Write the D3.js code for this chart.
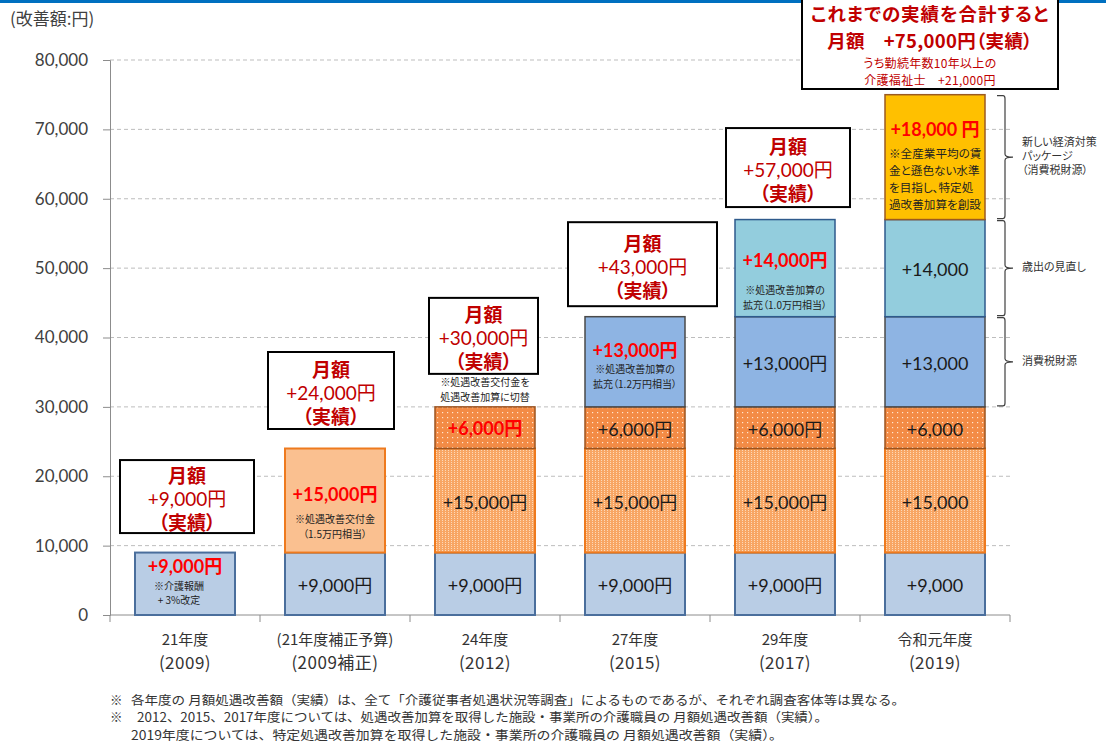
<!DOCTYPE html>
<html><head><meta charset="utf-8">
<script src="https://cdn.jsdelivr.net/npm/d3@7"></script>
<style>
html,body{margin:0;padding:0;background:#fff;}
svg{display:block;}
.palt{font-feature-settings:"palt";}
</style></head>
<body><svg id="c" width="1106" height="744"></svg>
<script>
// ---------------- data ----------------
const categories = ["21年度", "(21年度補正予算)", "24年度", "27年度", "29年度", "令和元年度"];
const yearLabels = ["(2009)", "(2009補正)", "(2012)", "(2015)", "(2017)", "(2019)"];
const yTicks = [0, 10000, 20000, 30000, 40000, 50000, 60000, 70000, 80000];

const seriesKeys = ["base", "kofu", "kasan", "kasan6", "kakuju13", "kakuju14", "tokutei"];
const baseVals     = [9000, 9000, 9000, 9000, 9000, 9000];
const kofuVals     = [0, 15000, 0, 0, 0, 0];
const kasanVals    = [0, 0, 15000, 15000, 15000, 15000];
const kasan6Vals   = [0, 0, 6000, 6000, 6000, 6000];
const kakuju13Vals = [0, 0, 0, 13000, 13000, 13000];
const kakuju14Vals = [0, 0, 0, 0, 14000, 14000];
const tokuteiVals  = [0, 0, 0, 0, 0, 18000];

const baseLabels     = ["+9,000円", "+9,000円", "+9,000円", "+9,000円", "+9,000円", "+9,000"];
const kofuLabels     = ["", "+15,000円", "", "", "", ""];
const kasanLabels    = ["", "", "+15,000円", "+15,000円", "+15,000円", "+15,000"];
const kasan6Labels   = ["", "", "+6,000円", "+6,000円", "+6,000円", "+6,000"];
const kakuju13Labels = ["", "", "", "+13,000円", "+13,000円", "+13,000"];
const kakuju14Labels = ["", "", "", "", "+14,000円", "+14,000"];
const tokuteiLabels  = ["", "", "", "", "", "+18,000 円"];

const newSeriesIndex = [0, 1, 3, 4, 5, 6];
const notes = [
  ["※介護報酬", "+ 3%改定"],
  ["※処遇改善交付金", "（1.5万円相当）"],
  ["※処遇改善交付金を", "処遇改善加算に切替"],
  ["※処遇改善加算の", "拡充（1.2万円相当）"],
  ["※処遇改善加算の", "拡充（1.0万円相当）"],
  ["※全産業平均の賃", "金と遜色ない水準", "を目指し、特定処", "過改善加算を創設"]
];
const totalBoxLines = ["これまでの実績を合計すると", "月額　+75,000円（実績）", "うち勤続年数10年以上の", "介護福祉士　+21,000円"];
const bracketGroups = [
  {from: 57000, to: 75000, lines: ["新しい経済対策", "パッケージ", "（消費税財源）"]},
  {from: 43000, to: 57000, lines: ["歳出の見直し"]},
  {from: 30000, to: 43000, lines: ["消費税財源"]}
];
const footnotes = [
  ["※", "各年度の 月額処遇改善額（実績）は、全て「介護従事者処遇状況等調査」によるものであるが、それぞれ調査客体等は異なる。"],
  ["※", "2012、2015、2017年度については、処遇改善加算を取得した施設・事業所の介護職員の 月額処遇改善額（実績）。"],
  ["", "2019年度については、特定処遇改善加算を取得した施設・事業所の介護職員の 月額処遇改善額（実績）。"]
];

// ---------------- layout / style ----------------
const JP = "'Noto Sans CJK JP', sans-serif";
const NUM = "Lato, 'Noto Sans CJK JP', sans-serif";
const M = {left: 110, right: 1010, top: 60, bottom: 615};

const seriesStyle = {
  base:     {fill: "#B9CDE5", stroke: "#4A6E9C", sw: 2},
  kofu:     {fill: "#FAC090", stroke: "#EE7A1E", sw: 2},
  kasan:    {fill: "url(#patFine)", stroke: "#EE7A1E", sw: 2},
  kasan6:   {fill: "url(#patSparse)", stroke: "#9C5420", sw: 1.5},
  kakuju13: {fill: "#8EB4E3", stroke: "#4A4A4A", sw: 1.5},
  kakuju14: {fill: "#93CDDD", stroke: "#2E5A8C", sw: 1.5},
  tokutei:  {fill: "#FFC000", stroke: "#9C5A20", sw: 1.5}
};
const redLayout = [
  {labelDy: 13, noteDy: 33, gap: 14, anchor: "middle", noteDx: -6, fs: 10},
  {labelDy: 45, noteDy: 70, gap: 14.5, anchor: "middle", noteDx: 0, fs: 10},
  {labelDy: 21, noteDy: -25, gap: 14.5, anchor: "middle", noteDx: 0, fs: 10},
  {labelDy: 33.5, noteDy: 52, gap: 14.5, anchor: "middle", noteDx: 0, fs: 10},
  {labelDy: 40.5, noteDy: 70, gap: 14.5, anchor: "middle", noteDx: 0, fs: 10},
  {labelDy: 34, noteDy: 58, gap: 17, anchor: "start", noteDx: -46, fs: 11.6}
];
const callLayout = [
  {w: 134, h: 73, gap: 19.5, dx: 2},
  {w: 126, h: 77, gap: 19.5, dx: -4},
  {w: 109, h: 76, gap: 33, dx: -1.5},
  {w: 149, h: 84, gap: 10.5, dx: 7.5},
  {w: 124, h: 79, gap: 12.5, dx: 3}
];

// ---------------- scales ----------------
const svg = d3.select("#c");
const x = d3.scaleBand().domain(categories).range([M.left, M.right]).paddingInner(1/3).paddingOuter(1/6);
const y = d3.scaleLinear().domain([0, 80000]).range([M.bottom, M.top]);

const defs = svg.append("defs");
const p1 = defs.append("pattern").attr("id", "patFine").attr("patternUnits", "userSpaceOnUse").attr("width", 3).attr("height", 2);
p1.append("rect").attr("width", 3).attr("height", 2).attr("fill", "#F8A664");
p1.append("rect").attr("x", 1).attr("y", 0).attr("width", 1).attr("height", 1).attr("fill", "#FDD9B8");
const p2 = defs.append("pattern").attr("id", "patSparse").attr("patternUnits", "userSpaceOnUse").attr("width", 5).attr("height", 5);
p2.append("rect").attr("width", 5).attr("height", 5).attr("fill", "#F38B45");
p2.append("rect").attr("x", 2).attr("y", 2).attr("width", 1.2).attr("height", 1.2).attr("fill", "#FFE6CF");

svg.append("rect").attr("x", 0).attr("y", 0).attr("width", 1106).attr("height", 3).attr("fill", "#0070C0");

svg.append("text").attr("x", 10).attr("y", 17).attr("dominant-baseline", "central")
  .attr("font-family", JP).attr("font-size", 17).attr("fill", "#404040").text("(改善額:円)");

// grid
svg.append("g").selectAll("line").data(yTicks.filter(d => d > 0)).join("line")
  .attr("x1", M.left).attr("x2", M.right).attr("y1", d => y(d)).attr("y2", d => y(d))
  .attr("stroke", "#BDBDBD").attr("stroke-width", 1).attr("stroke-dasharray", "4,3");

// y axis
const yAxis = svg.append("g").attr("transform", `translate(${M.left},0)`)
  .call(d3.axisLeft(y).tickValues(yTicks).tickFormat(d3.format(",")).tickSize(7).tickPadding(15));
yAxis.select(".domain").attr("stroke", "#8C8C8C");
yAxis.selectAll(".tick line").attr("stroke", "#8C8C8C");
yAxis.selectAll(".tick text").attr("font-family", NUM).attr("font-size", 17).attr("fill", "#404040");

// x axis
svg.append("line").attr("x1", M.left).attr("x2", M.right).attr("y1", y(0)).attr("y2", y(0)).attr("stroke", "#8C8C8C");
const bounds = d3.range(categories.length + 1).map(i => M.left + i * x.step());
svg.append("g").selectAll("line").data(bounds).join("line")
  .attr("x1", d => d).attr("x2", d => d).attr("y1", y(0)).attr("y2", y(0) + 7).attr("stroke", "#8C8C8C");

const catG = svg.append("g").attr("font-family", JP).attr("fill", "#333").attr("text-anchor", "middle");
catG.selectAll("text.c1").data(categories).join("text").attr("class", "c1")
  .attr("x", d => x(d) + x.bandwidth() / 2).attr("y", 638).attr("dominant-baseline", "central")
  .attr("font-size", 15).text(d => d);
catG.selectAll("text.c2").data(yearLabels).join("text").attr("class", "c2")
  .attr("x", (d, i) => x(categories[i]) + x.bandwidth() / 2).attr("y", 661).attr("dominant-baseline", "central")
  .attr("font-size", 17).attr("letter-spacing", 0.5).text(d => d);

// stacked bars
const valsBy = {base: baseVals, kofu: kofuVals, kasan: kasanVals, kasan6: kasan6Vals, kakuju13: kakuju13Vals, kakuju14: kakuju14Vals, tokutei: tokuteiVals};
const labelsBy = {base: baseLabels, kofu: kofuLabels, kasan: kasanLabels, kasan6: kasan6Labels, kakuju13: kakuju13Labels, kakuju14: kakuju14Labels, tokutei: tokuteiLabels};
const table = categories.map((c, i) => { const o = {cat: c}; seriesKeys.forEach(k => o[k] = valsBy[k][i]); return o; });
const stacked = d3.stack().keys(seriesKeys)(table);

const barsG = svg.append("g");
stacked.forEach(layer => {
  const st = seriesStyle[layer.key];
  barsG.selectAll(null).data(layer.filter(d => d[1] > d[0])).join("rect")
    .attr("x", d => x(d.data.cat)).attr("width", x.bandwidth())
    .attr("y", d => y(d[1])).attr("height", d => y(d[0]) - y(d[1]))
    .attr("fill", st.fill).attr("stroke", st.stroke).attr("stroke-width", st.sw);
});

const labG = svg.append("g");
stacked.forEach((layer, si) => {
  layer.forEach((d, ci) => {
    const txt = labelsBy[layer.key][ci];
    if (!txt || d[1] <= d[0]) return;
    const cx = x(d.data.cat) + x.bandwidth() / 2;
    if (newSeriesIndex[ci] === si) {
      const L = redLayout[ci];
      labG.append("text").attr("x", cx).attr("y", y(d[1]) + L.labelDy).attr("dominant-baseline", "central")
        .attr("text-anchor", "middle").attr("font-family", NUM).attr("font-weight", "bold").attr("font-size", 18)
        .attr("fill", "#FF0000").text(txt);
      const nt = labG.append("text").attr("class", "palt").attr("text-anchor", L.anchor).attr("font-family", JP)
        .attr("font-size", L.fs).attr("fill", "#222");
      notes[ci].forEach((n, k) => {
        nt.append("tspan").attr("x", cx + L.noteDx).attr("y", y(d[1]) + L.noteDy + k * L.gap)
          .attr("dominant-baseline", "central").text(n);
      });
    } else {
      labG.append("text").attr("x", cx).attr("y", (y(d[0]) + y(d[1])) / 2 + 1).attr("dominant-baseline", "central")
        .attr("text-anchor", "middle").attr("font-family", NUM).attr("font-size", 18).attr("fill", "#1a1a1a").text(txt);
    }
  });
});

// callouts
const totals = table.map(r => d3.sum(seriesKeys, k => r[k]));
const fmt = d3.format(",");
const callG = svg.append("g");
callLayout.forEach((L, i) => {
  const cx = x(categories[i]) + x.bandwidth() / 2 + L.dx;
  const bottom = y(totals[i]) - L.gap;
  const top = bottom - L.h;
  callG.append("rect").attr("x", cx - L.w / 2).attr("y", top).attr("width", L.w).attr("height", L.h)
    .attr("fill", "#fff").attr("stroke", "#000").attr("stroke-width", 2);
  const cy = top + L.h / 2;
  const lines = ["月額", "+" + fmt(totals[i]) + "円", "（実績）"];
  const dys = [-22, 2, 25];
  lines.forEach((t, k) => {
    callG.append("text").attr("class", "palt").attr("x", cx).attr("y", cy + dys[k]).attr("dominant-baseline", "central")
      .attr("text-anchor", "middle").attr("font-family", k === 1 ? NUM : JP)
      .attr("font-weight", k === 1 ? "normal" : "bold").attr("font-size", 19)
      .attr("fill", "#C00000").text(t);
  });
});

// grand total box
const gx = x(categories[5]) + x.bandwidth() / 2 - 5;
callG.append("rect").attr("x", gx - 128).attr("y", -2).attr("width", 256).attr("height", 91)
  .attr("fill", "#fff").attr("stroke", "#000").attr("stroke-width", 2);
const gt = callG.append("text").attr("class", "palt").attr("text-anchor", "middle").attr("font-family", JP)
  .attr("fill", "#C00000").attr("xml:space", "preserve");
[[13, 18.5, "bold", 0.9], [40, 18.5, "bold", 0.3], [62.4, 12, "normal", 0.3], [79.8, 12, "normal", 0.3]].forEach((s, k) => {
  gt.append("tspan").attr("x", gx).attr("y", s[0]).attr("dominant-baseline", "central")
    .attr("font-size", s[1]).attr("font-weight", s[2]).attr("letter-spacing", s[3]).text(totalBoxLines[k]);
});

// brackets
const brG = svg.append("g");
bracketGroups.forEach(g => {
  const t = y(g.to) + 1, b = y(g.from) - 1, m = (t + b) / 2;
  const x0 = 997, x1 = 1005, x2 = 1013;
  const path = `M${x0},${t} L${x1 - 2},${t} Q${x1},${t} ${x1},${t + 3} L${x1},${m - 3} Q${x1},${m} ${x2},${m} Q${x1},${m} ${x1},${m + 3} L${x1},${b - 3} Q${x1},${b} ${x1 - 2},${b} L${x0},${b}`;
  brG.append("path").attr("d", path).attr("fill", "none").attr("stroke", "#404040").attr("stroke-width", 1.2);
  const n = g.lines.length;
  const bt = brG.append("text").attr("class", "palt").attr("font-family", JP).attr("font-size", 11).attr("fill", "#333");
  g.lines.forEach((ln, k) => {
    bt.append("tspan").attr("x", 1022).attr("y", m + (k - (n - 1) / 2) * 14 - 2).attr("dominant-baseline", "central").text(ln);
  });
});

// footnotes
const fnWidths = [774, 691, 652];
const fnG = svg.append("g").attr("font-family", JP).attr("font-size", 12.5).attr("fill", "#333");
footnotes.forEach((f, k) => {
  const yy = 699 + k * 17.5;
  if (f[0]) fnG.append("text").attr("x", 110).attr("y", yy).attr("dominant-baseline", "central").text(f[0]);
  fnG.append("text").attr("x", k === 1 ? 137 : 131).attr("y", yy).attr("dominant-baseline", "central")
    .attr("textLength", fnWidths[k]).attr("lengthAdjust", "spacingAndGlyphs").text(f[1]);
});
</script></body></html>
